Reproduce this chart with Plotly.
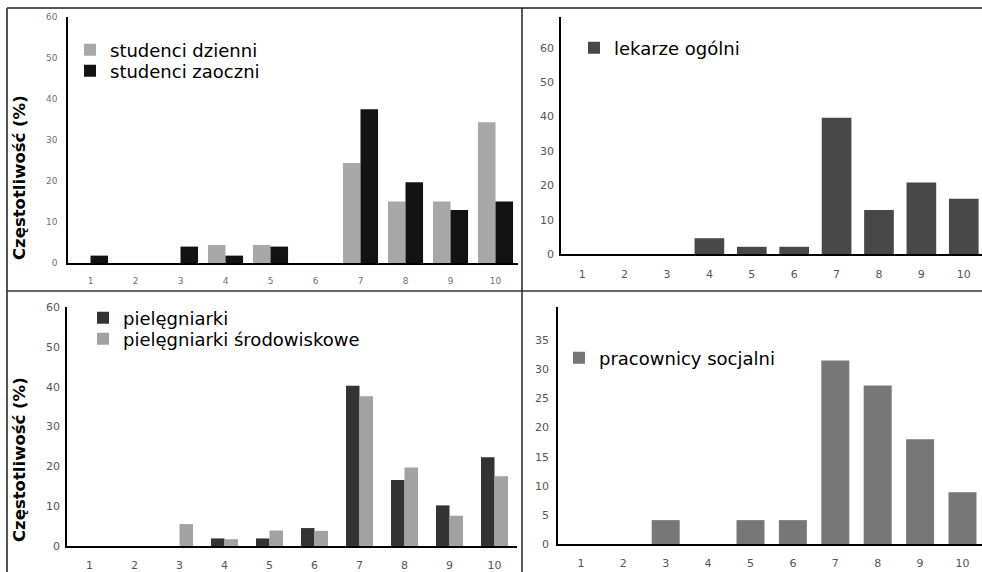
import plotly.graph_objects as go

W, H = 982, 572

categories = [1, 2, 3, 4, 5, 6, 7, 8, 9, 10]

# top-left panel
studenci_dzienni = [0, 0, 0, 4.4, 4.4, 0, 24.4, 15.0, 15.0, 34.3]
studenci_zaoczni = [1.8, 0, 4.0, 1.8, 4.0, 0, 37.5, 19.7, 12.9, 15.0]
# top-right panel
lekarze_ogolni = [0, 0, 0, 4.6, 2.1, 2.1, 39.7, 12.8, 20.8, 16.1]
# bottom-left panel
pielegniarki = [0, 0, 0, 1.9, 1.9, 4.5, 40.2, 16.6, 10.2, 22.3]
pielegniarki_srod = [0, 0, 5.5, 1.7, 3.9, 3.8, 37.6, 19.7, 7.6, 17.5]
# bottom-right panel
pracownicy_socjalni = [0, 0, 4.1, 0, 4.1, 4.1, 31.5, 27.2, 18.0, 8.9]

y_title = "Częstotliwość (%)"
ticks_60 = [0, 10, 20, 30, 40, 50, 60]
ticks_35 = [0, 5, 10, 15, 20, 25, 30, 35]

def px(x):
    return x / W

def py(y):
    return 1 - y / H

fig = go.Figure()

def add_bar(y, name, color, xa, ya, width, offset, legend):
    fig.add_trace(go.Bar(
        x=categories, y=y, name=name, xaxis=xa, yaxis=ya,
        marker=dict(color=color, line=dict(width=0)),
        width=width, offset=offset, legend=legend, showlegend=True,
    ))

add_bar(studenci_dzienni, "studenci dzienni", "#a8a8a8", "x", "y", 0.39, -0.39, "legend")
add_bar(studenci_zaoczni, "studenci zaoczni", "#131313", "x", "y", 0.39, 0.0, "legend2")
add_bar(lekarze_ogolni, "lekarze ogólni", "#484848", "x2", "y2", 0.70, -0.35, "legend3")
add_bar(pielegniarki, "pielęgniarki", "#333333", "x3", "y3", 0.30, -0.30, "legend4")
add_bar(pielegniarki_srod, "pielęgniarki środowiskowe", "#a2a2a2", "x3", "y3", 0.30, 0.0, "legend5")
add_bar(pracownicy_socjalni, "pracownicy socjalni", "#777777", "x4", "y4", 0.66, -0.33, "legend6")

tick_font_small = dict(family="DejaVu Sans", size=9, color="#707070")
tick_font = dict(family="DejaVu Sans", size=11, color="#555555")

def xaxis(domain, rng, font, standoff, anchor):
    return dict(domain=domain, range=rng, tickvals=categories, ticktext=[str(c) for c in categories],
                anchor=anchor, tickangle=0, automargin=False,
                showgrid=False, zeroline=False, showline=True, linecolor="#000000", linewidth=1.5,
                ticks="", tickfont=font, ticklabelstandoff=standoff, fixedrange=True)

def yaxis(domain, rng, tickvals, font, standoff, anchor):
    return dict(domain=domain, range=rng, tickvals=tickvals, anchor=anchor, automargin=False,
                showgrid=False, zeroline=False, showline=True, linecolor="#000000", linewidth=1.5,
                ticks="", tickfont=font, ticklabelstandoff=standoff, fixedrange=True)

layout = dict(
    width=W, height=H, autosize=False,
    margin=dict(l=0, r=0, t=0, b=0, pad=0, autoexpand=False),
    paper_bgcolor="white", plot_bgcolor="white",
    barmode="overlay",
    font=dict(family="DejaVu Sans", color="#000000"),
    xaxis=xaxis([px(68), px(518)], [0.5, 10.5], tick_font_small, 8, "y"),
    yaxis=yaxis([py(263), py(17)], [0, 60], ticks_60, tick_font_small, 7, "x"),
    xaxis2=xaxis([px(561), 1.0], [0.5, 10.43], tick_font, 9, "y2"),
    yaxis2=yaxis([py(254), py(17)], [0, 69], ticks_60, tick_font, 3, "x2"),
    xaxis3=xaxis([px(67), px(517)], [0.5, 10.5], tick_font, 8, "y3"),
    yaxis3=yaxis([py(546), py(307)], [0, 60], ticks_60, tick_font, 3, "x3"),
    xaxis4=xaxis([px(558), 1.0], [0.46, 10.46], tick_font, 8, "y4"),
    yaxis4=yaxis([py(544), py(307)], [0, 40.7], ticks_35, tick_font, 5, "x4"),
)

legend_font = dict(family="DejaVu Sans", size=18, color="#000000")

def legend_at(x_text, y_center):
    return dict(xref="container", yref="container", x=px(x_text - 40), y=py(y_center),
                xanchor="left", yanchor="middle", bgcolor="rgba(0,0,0,0)", borderwidth=0,
                font=legend_font, itemclick=False, itemdoubleclick=False)

layout["legend"] = legend_at(110, 50)
layout["legend2"] = legend_at(110, 71)
layout["legend3"] = legend_at(614, 48)
layout["legend4"] = legend_at(123, 318)
layout["legend5"] = legend_at(123, 339)
layout["legend6"] = legend_at(599, 358)

fig.update_layout(**layout)

for yc in (178, 460):
    fig.add_annotation(text=y_title, xref="paper", yref="paper", x=px(19), y=py(yc),
                       textangle=-90, showarrow=False, xanchor="center", yanchor="middle",
                       font=dict(family="DejaVu Sans", size=16.5, color="#000000", weight="bold"))

frame = dict(color="#555555", width=2)
fig.add_shape(type="line", xref="paper", yref="paper", x0=px(7), x1=1, y0=py(8), y1=py(8), line=frame)
fig.add_shape(type="line", xref="paper", yref="paper", x0=px(7), x1=px(7), y0=py(8), y1=0, line=frame)
fig.add_shape(type="line", xref="paper", yref="paper", x0=px(522), x1=px(522), y0=py(8), y1=0,
              line=dict(color="#222222", width=1.5))
fig.add_shape(type="line", xref="paper", yref="paper", x0=px(7), x1=1, y0=py(291), y1=py(291),
              line=dict(color="#333333", width=1.5))

fig.write_html(
    "out.html",
    config={"displayModeBar": False},
    post_script="document.body.style.margin='0';document.body.style.overflow='hidden';",
)
